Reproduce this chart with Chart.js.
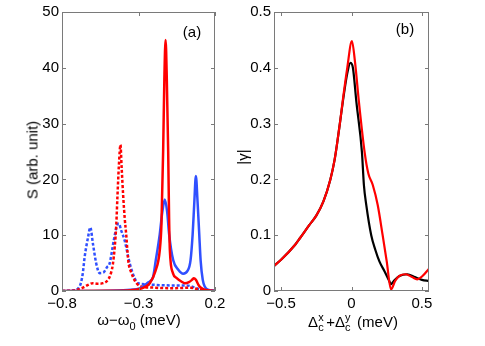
<!DOCTYPE html>
<html>
<head>
<meta charset="utf-8">
<script src="https://cdn.jsdelivr.net/npm/chart.js@4/dist/chart.umd.min.js"></script>
<style>
body{margin:0;background:#fff;width:485px;height:346px;position:relative;overflow:hidden;font-family:"Liberation Sans",Arial,sans-serif;color:#000}
canvas{position:absolute;top:0}
#ca{left:0}
#cb{left:240px}
.lab{position:absolute;font-size:15px;white-space:nowrap;line-height:1}
.rot{transform:translate(-50%,-50%) rotate(-90deg)}
.hc{transform:translateX(-50%)}
.sub{font-size:11px;position:relative;top:5px}
.stk{display:inline-block;position:relative;width:8px;height:12px;font-size:11px}
.stk .u{position:absolute;left:0;top:-3px}
.stk .d{position:absolute;left:0;top:7px}
</style>
</head>
<body>
<canvas id="ca" width="240" height="346"></canvas>
<canvas id="cb" width="245" height="346"></canvas>
<div class="lab rot" style="left:32px;top:160px">S (arb. unit)</div>
<div class="lab rot" style="left:242px;top:157px">|γ|</div>
<div class="lab hc" style="left:139px;top:312px">ω−ω<span class="sub">0</span> (meV)</div>
<div class="lab hc" style="left:353px;top:314px">Δ<span class="stk"><span class="u">x</span><span class="d">c</span></span>+Δ<span class="stk"><span class="u">y</span><span class="d">c</span></span> (meV)</div>
<div class="lab hc" style="left:192px;top:24px">(a)</div>
<div class="lab hc" style="left:405px;top:21px">(b)</div>
<script>
// panel (a): spectra S vs omega-omega0
var redSolidX = [-0.8,-0.5,-0.35,-0.3,-0.26,-0.226,-0.19,-0.161,-0.15,-0.139,-0.131,-0.123,-0.115,-0.106,-0.1,-0.095,-0.075,-0.05,-0.02,0.003,0.03,0.05,0.062,0.075,0.09,0.1,0.12,0.15,0.2];
var redSolidY = [0,0.05,0.15,0.3,0.7,1.4,3.5,7.3,12,25,38,45,38,25,13,7.3,3.2,2.3,1.7,1.4,1.6,2.0,2.3,2.0,1.2,0.8,0.4,0.15,0.02];

var blueSolidX = [-0.8,-0.5,-0.4,-0.3,-0.272,-0.24,-0.205,-0.187,-0.161,-0.145,-0.128,-0.112,-0.1,-0.073,-0.04,-0.008,0.02,0.04,0.054,0.065,0.075,0.086,0.097,0.106,0.12,0.134,0.16,0.2];
var blueSolidY = [0,0.05,0.15,0.4,0.75,1.5,2.5,5.5,10.2,14,16.4,14,10.2,5.5,3.8,3.1,3.6,5.5,10.2,16,20.6,16,10.2,5.5,2,0.75,0.2,0.05];

var redDashX = [-0.8,-0.72,-0.67,-0.63,-0.598,-0.565,-0.532,-0.5,-0.48,-0.467,-0.455,-0.445,-0.438,-0.428,-0.418,-0.41,-0.4,-0.39,-0.38,-0.372,-0.365,-0.35,-0.336,-0.31,-0.29,-0.2,-0.07,0.04,0.09,0.15,0.2];
var redDashY = [0,0.1,0.5,1.1,1.4,1.3,1.4,2.0,3.2,4.9,8,12,16.7,22.6,26.2,22,17,13,10,7,5,3.5,2.5,1.3,0.9,0.6,0.5,0.6,0.3,0.1,0.02];

var blueDashX = [-0.8,-0.73,-0.685,-0.665,-0.652,-0.63,-0.615,-0.598,-0.576,-0.554,-0.53,-0.505,-0.489,-0.462,-0.44,-0.428,-0.415,-0.39,-0.357,-0.325,-0.303,-0.25,-0.16,-0.08,0.014,0.06,0.1,0.15,0.2];
var blueDashY = [0,0.1,0.8,3,6.1,9.6,11.4,8.5,4.9,3.2,3.3,4.3,4.9,9,11.8,12.1,11,9,4.9,2.3,1.4,1.2,1.05,1.0,1.0,0.7,0.3,0.1,0.02];

var xTicksA = [-0.8,-0.3,0.2];
var yTicksA = [0,10,20,30,40,50];

// panel (b): |gamma| vs detuning
var blackX = [-0.55,-0.5,-0.4,-0.365,-0.3,-0.25,-0.2,-0.15,-0.12,-0.1,-0.08,-0.06,-0.03,-0.008,0.01,0.035,0.074,0.088,0.105,0.14,0.17,0.198,0.235,0.268,0.28,0.3,0.34,0.396,0.45,0.5,0.55];
var blackY = [0.045,0.056,0.083,0.095,0.118,0.135,0.16,0.2,0.235,0.268,0.305,0.342,0.39,0.409,0.4,0.338,0.249,0.19,0.154,0.1,0.073,0.053,0.035,0.018,0.012,0.018,0.027,0.03,0.025,0.02,0.018];

var redX = [-0.55,-0.5,-0.4,-0.365,-0.3,-0.25,-0.2,-0.15,-0.12,-0.1,-0.08,-0.06,-0.03,0.003,0.025,0.053,0.093,0.12,0.151,0.186,0.221,0.25,0.28,0.31,0.34,0.385,0.43,0.466,0.5,0.55];
var redY = [0.045,0.056,0.083,0.095,0.118,0.135,0.16,0.2,0.235,0.268,0.305,0.345,0.4,0.448,0.41,0.338,0.249,0.21,0.19,0.154,0.1,0.053,0.003,0.018,0.027,0.03,0.025,0.021,0.026,0.04];

var xTicksB = [-0.5,0,0.5];
var yTicksB = [0,0.1,0.2,0.3,0.4,0.5];

function pts(xs, ys) {
    return xs.map(function(x, i){ return {x: x, y: ys[i]}; });
}

function fmt(v) {
    return String(+v.toFixed(2)).replace('-', '\u2212');
}

/* frame with inward ticks on all four sides */
var frame = {
    id: 'frame',
    afterDatasetsDraw: function(chart) {
        var ctx = chart.ctx, a = chart.chartArea, sx = chart.scales.x, sy = chart.scales.y;
        ctx.save();
        ctx.strokeStyle = '#7a7a7a';
        ctx.lineWidth = 1;
        ctx.strokeRect(Math.round(a.left)+0.5, Math.round(a.top)+0.5, Math.round(a.width)-1, Math.round(a.height)-1);
        ctx.beginPath();
        sx.ticks.forEach(function(t){
            var p = Math.round(sx.getPixelForValue(t.value))+0.5;
            ctx.moveTo(p, a.bottom); ctx.lineTo(p, a.bottom-4);
            ctx.moveTo(p, a.top); ctx.lineTo(p, a.top+4);
        });
        sy.ticks.forEach(function(t){
            var p = Math.round(sy.getPixelForValue(t.value))+0.5;
            ctx.moveTo(a.left, p); ctx.lineTo(a.left+4, p);
            ctx.moveTo(a.right, p); ctx.lineTo(a.right-4, p);
        });
        ctx.stroke();
        ctx.restore();
    }
};

function line(data, color, dash, w) {
    return {
        data: data,
        borderColor: color,
        borderWidth: w,
        borderDash: dash,
        pointRadius: 0,
        fill: false,
        cubicInterpolationMode: 'monotone'
    };
}

function opts(xmin, xmax, xticks, ymin, ymax, yticks, yw, padRight) {
    var tickFont = {family: '"Liberation Sans", Arial, sans-serif', size: 15};
    return {
        responsive: false,
        animation: false,
        layout: {padding: {top: 9, right: padRight, left: 0, bottom: 0}},
        plugins: {legend: {display: false}, tooltip: {enabled: false}},
        scales: {
            x: {
                type: 'linear', min: xmin, max: xmax,
                afterBuildTicks: function(s){ s.ticks = xticks.map(function(v){ return {value: v}; }); },
                afterFit: function(s){ s.height = 55; },
                grid: {display: false, drawTicks: false},
                border: {display: false},
                ticks: {padding: 4, color: '#000', font: tickFont, maxRotation: 0, autoSkip: false, callback: fmt}
            },
            y: {
                type: 'linear', min: ymin, max: ymax,
                afterBuildTicks: function(s){ s.ticks = yticks.map(function(v){ return {value: v}; }); },
                afterFit: function(s){ s.width = yw; },
                grid: {display: false, drawTicks: false},
                border: {display: false},
                ticks: {padding: 3, color: '#000', font: tickFont, autoSkip: false, callback: fmt}
            }
        }
    };
}

new Chart(document.getElementById('ca'), {
    type: 'line',
    data: {
        datasets: [
            line(pts(redSolidX, redSolidY), '#ff0000', [], 2.5),
            line(pts(blueSolidX, blueSolidY), '#3050ff', [], 2.5),
            line(pts(redDashX, redDashY), '#ff0000', [3, 2], 2.5),
            line(pts(blueDashX, blueDashY), '#3050ff', [3, 2], 2.5)
        ]
    },
    options: opts(-0.8, 0.2, xTicksA, 0, 50, yTicksA, 62, 25),
    plugins: [frame]
});

new Chart(document.getElementById('cb'), {
    type: 'line',
    data: {
        datasets: [
            line(pts(redX, redY), '#ff0000', [], 2.2),
            line(pts(blackX, blackY), '#000000', [], 2.2)
        ]
    },
    options: opts(-0.55, 0.55, xTicksB, 0, 0.5, yTicksB, 34, 56),
    plugins: [frame]
});
</script>
</body>
</html>
